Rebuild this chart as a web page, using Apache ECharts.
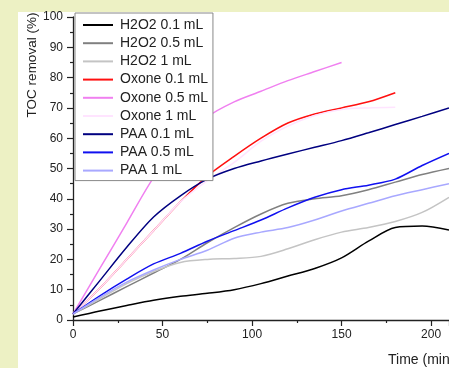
<!DOCTYPE html>
<html><head><meta charset="utf-8">
<script src="https://cdn.jsdelivr.net/npm/echarts@6/dist/echarts.min.js"></script>
<style>html,body{margin:0;padding:0;background:#edf1c4}#c{width:449px;height:368px}</style>
</head><body><div id="c"></div>
<script>
var timeMin = [0,15,30,45,60,75,90,105,120,135,150,165,180,195,210];
var seriesNames = ['H2O2 0.1 mL','H2O2 0.5 mL','H2O2 1 mL','Oxone 0.1 mL','Oxone 0.5 mL','Oxone 1 mL','PAA 0.1 mL','PAA 0.5 mL','PAA 1 mL'];
var h2o2_01 = [1,3,4.8,6.5,7.8,8.8,10,12,14.5,17,20.5,26,30.5,31,29.7];
var h2o2_05 = [2,6.5,11,15.5,20,25.5,30.5,35,38.5,40,41,43,45.5,48,50];
var h2o2_1  = [2,7,12,16,19,20,20.3,21,23.5,26.5,29,30.5,32.5,35.5,40.5];
var oxone_01 = [2,10.5,20,29.5,39,47.5,54,60,65,68,70,72,75];
var oxone_05 = [2,17,32,47,58,67,72,75.5,79,82,85];
var oxone_1  = [2,10.5,20,29.5,39,46,52,59,64,67.5,69.5,70,70.2];
var paa_01 = [2,13,24,34,41,46.5,50,52.5,54.8,57,59.2,61.8,64.5,67.2,70];
var paa_05 = [2,8,13.5,18.5,22,26,29.5,33,37,40.5,43,44.5,46.5,51,55];
var paa_1  = [2,7.5,12.5,16.5,20,23,27,29,30.5,33,36,38.5,41,43,45];
var yTicks = [0,10,20,30,40,50,60,70,80,90,100];
var xTicks = [0,50,100,150,200];

var allVals = [h2o2_01,h2o2_05,h2o2_1,oxone_01,oxone_05,oxone_1,paa_01,paa_05,paa_1];
var colors = ['#000000','#808080','#c4c4c4','#ff1010','#f080f0','#ffe4ff','#000080','#1010f0','#a8a8ff'];

function pairs(vals){ return vals.map(function(v,i){ return [timeMin[i], v]; }); }

var chart = echarts.init(document.getElementById('c'), null, {renderer:'canvas'});
var series = seriesNames.map(function(n,i){
  return {name:n, type:'line', data:pairs(allVals[i]), smooth:0.3, symbol:'none',
    lineStyle:{color:colors[i], width:1.5}, itemStyle:{color:colors[i]}, z:2, clip:true};
});
var font = 'Liberation Sans, Arial, sans-serif';
chart.setOption({
  backgroundColor:'#edf1c4',
  animation:false,
  graphic:[
    {type:'rect', shape:{x:18,y:12,width:431,height:356}, style:{fill:'#ffffff'}, z:-10, silent:true},
    {type:'text', x:32, y:65, rotation:Math.PI/2, style:{text:'TOC removal (%)', font:'13.5px '+font, fill:'#222', align:'center', verticalAlign:'middle'}, z:10},
    {type:'text', x:388, y:360, style:{text:'Time (min)', font:'14px '+font, fill:'#222', align:'left', verticalAlign:'middle'}, z:10}
  ],
  grid:{left:73, right:0, top:17, bottom:48, containLabel:false},
  xAxis:{type:'value', min:0, max:210, interval:50,
    axisLine:{show:true, onZero:false, lineStyle:{color:'#222', width:1.3}},
    axisTick:{show:true, inside:false, length:6, lineStyle:{color:'#222', width:1.2}},
    minorTick:{show:true, splitNumber:2, length:3, lineStyle:{color:'#222', width:1.2}},
    axisLabel:{color:'#222', fontSize:12, fontFamily:font, margin:9, showMaxLabel:false},
    splitLine:{show:false}},
  yAxis:{type:'value', min:0, max:100, interval:10,
    axisLine:{show:true, lineStyle:{color:'#222', width:1.3}},
    axisTick:{show:true, inside:false, length:6, lineStyle:{color:'#222', width:1.2}},
    minorTick:{show:true, splitNumber:2, length:3, lineStyle:{color:'#222', width:1.2}},
    axisLabel:{color:'#222', fontSize:12, fontFamily:font, margin:10},
    splitLine:{show:false}},
  legend:{show:true, orient:'vertical', left:75, top:13, data:seriesNames,
    itemWidth:30, itemHeight:14, itemGap:4.2, padding:[5,5,3,8],
    backgroundColor:'#ffffff', borderColor:'#888', borderWidth:1, borderRadius:0,
    textStyle:{fontSize:14, fontFamily:font, color:'#222', padding:[0,0,0,2]},
    icon:'path://M0,0 L30,0 L30,2 L0,2 Z', z:5},
  series:series
});
</script></body></html>
